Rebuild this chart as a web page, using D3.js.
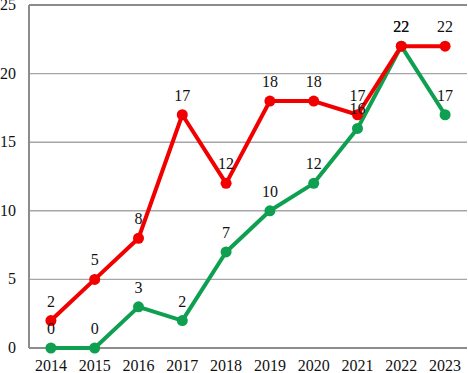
<!DOCTYPE html>
<html>
<head>
<meta charset="utf-8">
<script src="https://cdn.jsdelivr.net/npm/d3@7"></script>
<style>
  html, body { margin: 0; padding: 0; background: #fff; }
</style>
</head>
<body>
<div id="chart"></div>
<script>
(function () {
  const years = ["2014", "2015", "2016", "2017", "2018", "2019", "2020", "2021", "2022", "2023"];
  const redValues = [2, 5, 8, 17, 12, 18, 18, 17, 22, 22];
  const greenValues = [0, 0, 3, 2, 7, 10, 12, 16, 22, 17];
  const yTicks = [0, 5, 10, 15, 20, 25];

  const width = 468;
  const height = 373;
  const margin = { top: 5, right: 1, bottom: 25, left: 29 };
  const font = "'Liberation Serif', 'Times New Roman', serif";

  const svg = d3.select("#chart")
    .append("svg")
    .attr("width", width)
    .attr("height", height)
    .attr("font-family", font);

  const x = d3.scaleBand()
    .domain(years)
    .range([margin.left, width - margin.right]);

  const y = d3.scaleLinear()
    .domain([0, 25])
    .range([height - margin.bottom, margin.top]);

  const cx = (d, i) => x(years[i]) + x.bandwidth() / 2;

  // grid lines
  svg.append("g")
    .selectAll("line")
    .data(yTicks)
    .join("line")
    .attr("x1", margin.left)
    .attr("x2", width - margin.right)
    .attr("y1", (d) => y(d))
    .attr("y2", (d) => y(d))
    .attr("stroke", (d) => (d === 0 || d === 25 ? "#8c8c8c" : "#a6a6a6"))
    .attr("stroke-width", (d) => (d === 0 || d === 25 ? 2 : 1.4));

  // left axis line
  svg.append("line")
    .attr("x1", margin.left)
    .attr("x2", margin.left)
    .attr("y1", y(25))
    .attr("y2", y(0))
    .attr("stroke", "#8c8c8c")
    .attr("stroke-width", 2);

  // y tick labels
  svg.append("g")
    .selectAll("text")
    .data(yTicks)
    .join("text")
    .attr("x", 16)
    .attr("y", (d) => y(d) + 5)
    .attr("text-anchor", "end")
    .attr("font-size", 16)
    .attr("fill", "#111")
    .text((d) => d);

  // x tick labels
  svg.append("g")
    .selectAll("text")
    .data(years)
    .join("text")
    .attr("x", (d) => x(d) + x.bandwidth() / 2)
    .attr("y", height - 2)
    .attr("text-anchor", "middle")
    .attr("font-size", 16)
    .attr("fill", "#111")
    .text((d) => d);

  const series = [
    { values: greenValues, color: "#0ea050" },
    { values: redValues, color: "#f20000" },
  ];

  const line = d3.line()
    .x(cx)
    .y((d) => y(d));

  series.forEach((s) => {
    const g = svg.append("g");
    g.append("path")
      .datum(s.values)
      .attr("d", line)
      .attr("fill", "none")
      .attr("stroke", s.color)
      .attr("stroke-width", 4)
      .attr("stroke-linejoin", "round");
    g.selectAll("circle")
      .data(s.values)
      .join("circle")
      .attr("cx", cx)
      .attr("cy", (d) => y(d))
      .attr("r", 5.5)
      .attr("fill", s.color);
  });

  // value labels
  series.forEach((s) => {
    svg.append("g")
      .selectAll("text")
      .data(s.values)
      .join("text")
      .attr("x", cx)
      .attr("y", (d) => y(d) - 14)
      .attr("text-anchor", "middle")
      .attr("font-size", 16)
      .attr("fill", "#111")
      .text((d) => d);
  });
})();
</script>
</body>
</html>
